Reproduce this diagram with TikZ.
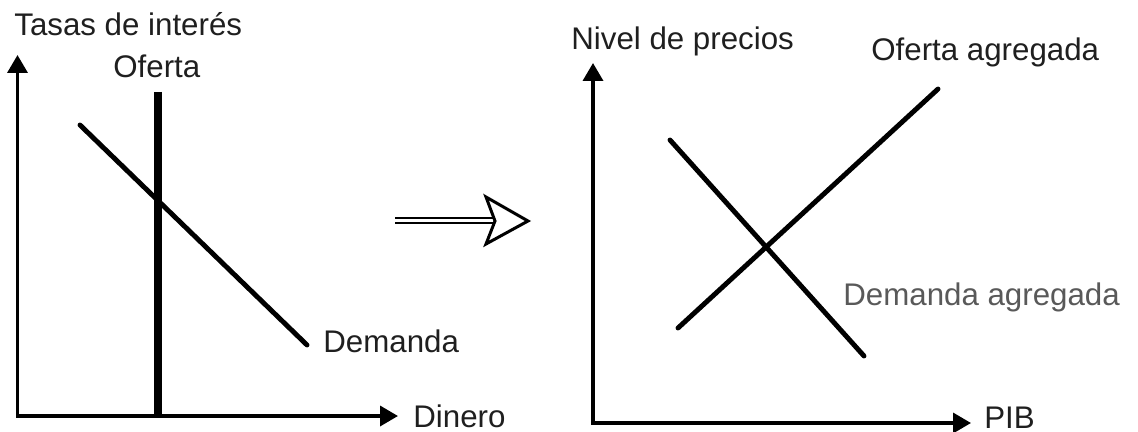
\documentclass[tikz,border=0pt]{standalone}
\usepackage{fontspec}
\setmainfont{Liberation Sans}
\usetikzlibrary{arrows.meta,calc}
\tikzset{>=latex}
\tikzset{
	eje/.style={line width=2pt, line join=miter, {Triangle[length=0.36cm,width=0.4cm]}-{Triangle[length=0.36cm,width=0.4cm]}},
	curva/.style={line width=2.8pt, line cap=round},
	rotulo/.style={inner sep=0pt, anchor=base west, font=\fontsize{17.8}{21}\selectfont, text=black!88},
}

\begin{document}
\begin{tikzpicture}[x=0.02cm, y=-0.02cm]
	\useasboundingbox (0,0) rectangle (1138,432);
	
	% Mercado de dinero (izquierda)
	\coordinate (origenA) at (17.5,416); %origen
	\coordinate (ejeYA) at (17.5,55); %tasas
	\coordinate (ejeXA) at (398,416); %dinero
	\coordinate (ofertaArriba) at (158,92); %oferta monetaria
	\coordinate (ofertaAbajo) at (158,416);
	\coordinate (demandaArriba) at (80,125); %demanda de dinero
	\coordinate (demandaAbajo) at (307,345);
	
	\draw[eje] (ejeYA) -- (origenA) -- (ejeXA);
	\draw[line width=4pt] (ofertaArriba) -- (ofertaAbajo);
	\draw[curva] (demandaArriba) -- (demandaAbajo);
	
	\node[rotulo] (tasas) at (14,36) {Tasas de interés};
	\node[rotulo] (oferta) at (113,78) {Oferta};
	\node[rotulo] (demanda) at (323,352) {Demanda};
	\node[rotulo] (dinero) at (413,427) {Dinero};
	
	% Flecha doble del centro
	\coordinate (flechaA) at (395,220.5);
	\coordinate (flechaB) at (493,220.5);
	\draw[line width=1.1pt, double, double distance=2pt] (flechaA) -- (flechaB);
	\draw[line width=1.7pt, line join=miter, fill=white] (486,197) -- (528,221) -- (486,244) -- (495,221) -- cycle;
	
	% Oferta y demanda agregadas (derecha)
	\coordinate (origenB) at (593,423); %origen
	\coordinate (ejeYB) at (593,63); %precios
	\coordinate (ejeXB) at (971,423); %PIB
	\coordinate (ofertaAgA) at (678,328); %oferta agregada
	\coordinate (ofertaAgB) at (938,89);
	\coordinate (demandaAgA) at (670,140); %demanda agregada
	\coordinate (demandaAgB) at (864,356);
	
	\draw[eje] (ejeYB) -- (origenB) -- (ejeXB);
	\draw[curva] (ofertaAgA) -- (ofertaAgB);
	\draw[curva] (demandaAgA) -- (demandaAgB);
	
	\node[rotulo] (nivel) at (571,50) {Nivel de precios};
	\node[rotulo] (ofertaAg) at (871,61) {Oferta agregada};
	\node[rotulo, text=black!65] (demandaAg) at (843,305) {Demanda agregada};
	\node[rotulo] (pib) at (984,428) {PIB};
\end{tikzpicture}
\end{document}
